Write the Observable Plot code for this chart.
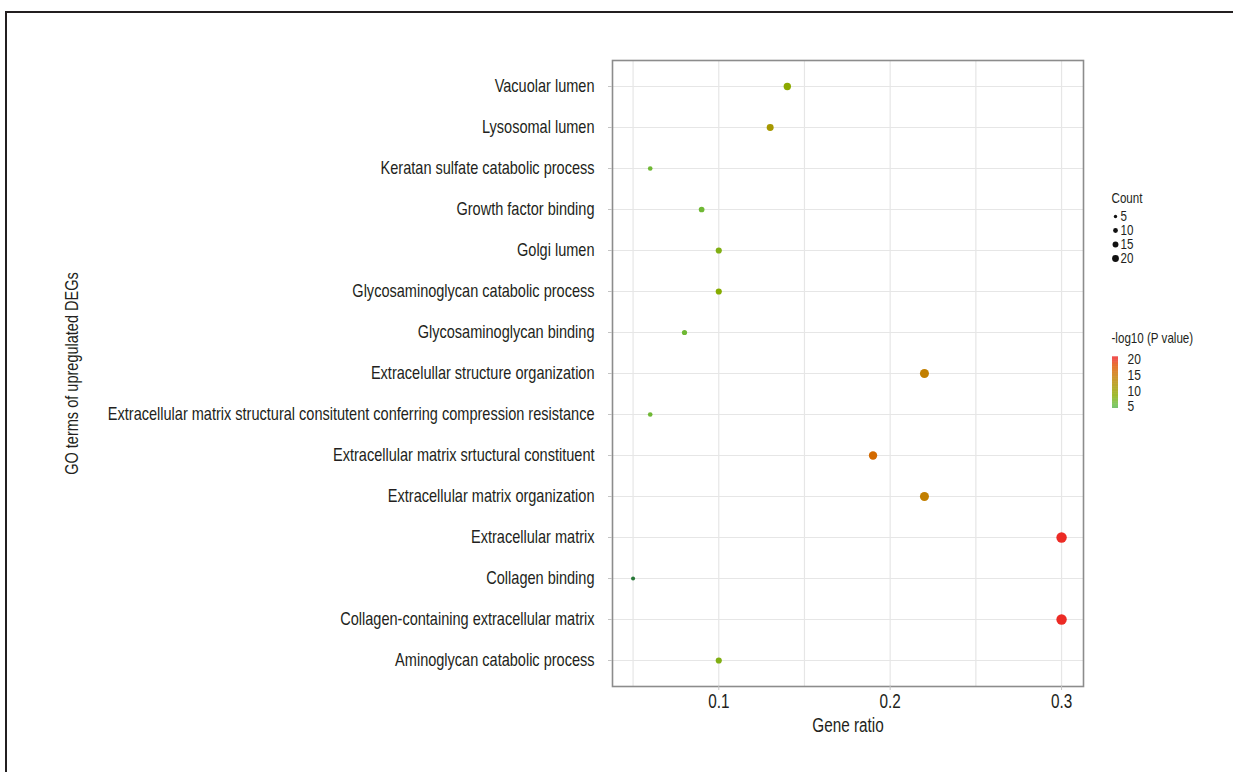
<!DOCTYPE html>
<html><head><meta charset="utf-8">
<script src="https://cdn.jsdelivr.net/npm/d3@7"></script>
<script src="https://cdn.jsdelivr.net/npm/@observablehq/plot@0.6"></script>
<style>
html,body{margin:0;padding:0;background:#fff;}
body{width:1233px;height:772px;overflow:hidden;font-family:"Liberation Sans",Arial,sans-serif;color:#231f20;}
#wrap{position:relative;width:1233px;height:772px;}
#border{position:absolute;left:5px;top:11px;width:1240px;height:770px;border-top:2px solid #231f20;border-left:2px solid #231f20;}
#main{position:absolute;left:0;top:0;width:1233px;height:772px;}
#sizeLeg{position:absolute;left:1100px;top:188px;width:133px;height:80px;}
#colLeg{position:absolute;left:1100px;top:326px;width:133px;height:100px;}
svg{max-width:none !important;}
</style>
</head><body>
<div id="wrap">
<div id="border"></div>
<div id="main"></div>
<div id="sizeLeg"></div>
<div id="colLeg"></div>
</div>
<script>
// ---- data ----
const terms = [
  "Vacuolar lumen",
  "Lysosomal lumen",
  "Keratan sulfate catabolic process",
  "Growth factor binding",
  "Golgi lumen",
  "Glycosaminoglycan catabolic process",
  "Glycosaminoglycan binding",
  "Extracelullar structure organization",
  "Extracellular matrix structural consitutent conferring compression resistance",
  "Extracellular matrix srtuctural constituent",
  "Extracellular matrix organization",
  "Extracellular matrix",
  "Collagen binding",
  "Collagen-containing extracellular matrix",
  "Aminoglycan catabolic process"
];
const geneRatio = [0.14, 0.13, 0.06, 0.09, 0.10, 0.10, 0.08, 0.22, 0.06, 0.19, 0.22, 0.30, 0.05, 0.30, 0.10];
const counts    = [10, 9, 4, 6, 7, 7, 5, 15, 4, 13, 15, 20, 3, 20, 7];
const negLogP   = [8.5, 11, 6, 6, 7.5, 8, 6, 14, 6, 16, 14, 20, 2.5, 21, 7.5];
const xTicks = [0.1, 0.2, 0.3];
const xGrid = [0.05, 0.1, 0.15, 0.2, 0.25, 0.3];
const countLegend = [5, 10, 15, 20];
const pLegendTicks = [20, 15, 10, 5];

const rows = terms.map((t, i) => ({term: t, ratio: geneRatio[i], count: counts[i], p: negLogP[i]}));

const textColor = "#231f20";
const colorCfg = {type: "linear", domain: [2, 5, 20], range: ["#1e6a33", "#62bd45", "#ec2b25"], interpolate: "hcl", clamp: true};
const font = "'Liberation Sans',Arial,sans-serif";

function condense(svg, f) {
  svg.querySelectorAll("text").forEach(t => {
    const L = t.getComputedTextLength();
    if (L > 0) {
      t.setAttribute("textLength", (L * f).toFixed(2));
      t.setAttribute("lengthAdjust", "spacingAndGlyphs");
    }
  });
}

const main = Plot.plot({
  width: 1233, height: 772,
  marginLeft: 612, marginRight: 150, marginTop: 60, marginBottom: 86,
  style: {fontFamily: font, fontSize: "18.5px", color: textColor, background: "transparent"},
  x: {domain: [0.038, 0.3128]},
  y: {type: "point", domain: terms, padding: 0.61},
  r: {type: "sqrt", domain: [0, 20], range: [0, 5.2]},
  color: colorCfg,
  marks: [
    Plot.gridX(xGrid, {stroke: "#e6e6e6", strokeOpacity: 1, strokeWidth: 1.2}),
    Plot.gridY({stroke: "#e6e6e6", strokeOpacity: 1, strokeWidth: 1.2}),
    Plot.frame({stroke: "#8c8c8c", strokeWidth: 1.6}),
    Plot.axisY({text: null, tickSize: 4, stroke: "#c4c4c4", label: null}),
    Plot.axisY({tickSize: 0, tickPadding: 18, fill: textColor, fontSize: 18.5,
      label: "GO terms of upregulated DEGs", labelAnchor: "center", labelOffset: 548, labelArrow: "none"}),
    Plot.axisX(xTicks, {text: null, tickSize: 4, stroke: "#c4c4c4", label: null}),
    Plot.axisX(xTicks, {tickSize: 0, tickPadding: 8, fill: textColor, fontSize: 19.5, tickFormat: d => String(d),
      label: "Gene ratio", labelAnchor: "center", labelOffset: 45, labelArrow: "none"}),
    Plot.dot(rows, {x: "ratio", y: "term", r: "count", fill: "p", stroke: null})
  ]
});
document.getElementById("main").appendChild(main);
condense(main, 0.785);

// ---- size legend ----
const sizeLeg = Plot.plot({
  width: 133, height: 80, margin: 0,
  style: {fontFamily: font, fontSize: "14.5px", color: textColor, background: "transparent"},
  y: {type: "point", domain: countLegend, range: [27, 70], padding: 0, axis: null},
  r: {type: "sqrt", domain: [0, 20], range: [0, 3.4]},
  marks: [
    Plot.text(["Count"], {frameAnchor: "top-left", dx: 11, dy: 4, lineAnchor: "top", textAnchor: "start", fill: textColor, fontSize: 14.5}),
    Plot.dot(countLegend, {y: d => d, r: d => d, fill: "#111", frameAnchor: "left", dx: 15}),
    Plot.text(countLegend, {y: d => d, text: d => String(d), frameAnchor: "left", dx: 20, textAnchor: "start", fill: textColor, fontSize: 14.5})
  ]
});
document.getElementById("sizeLeg").appendChild(sizeLeg);
condense(sizeLeg, 0.8);

// ---- colour legend ----
const ramp = d3.range(4.4, 20.61, 0.2);
const colLeg = Plot.plot({
  width: 133, height: 100, margin: 0,
  style: {fontFamily: font, fontSize: "14.5px", color: textColor, background: "transparent"},
  x: {domain: [0, 1], range: [12, 18], axis: null},
  y: {domain: [5, 20], range: [80, 33], axis: null},
  color: colorCfg,
  marks: [
    Plot.text(["-log10 (P value)"], {frameAnchor: "top-left", dx: 11, dy: 6, lineAnchor: "top", textAnchor: "start", fill: textColor, fontSize: 14.5}),
    Plot.rect(ramp, {x1: 0, x2: 1, y1: d => d, y2: d => d + 0.22, fill: d => d}),
    Plot.text(pLegendTicks, {x: 1, y: d => d, text: d => String(d), dx: 9, textAnchor: "start", fill: textColor, fontSize: 15})
  ]
});
document.getElementById("colLeg").appendChild(colLeg);
condense(colLeg, 0.8);
</script>
</body></html>
